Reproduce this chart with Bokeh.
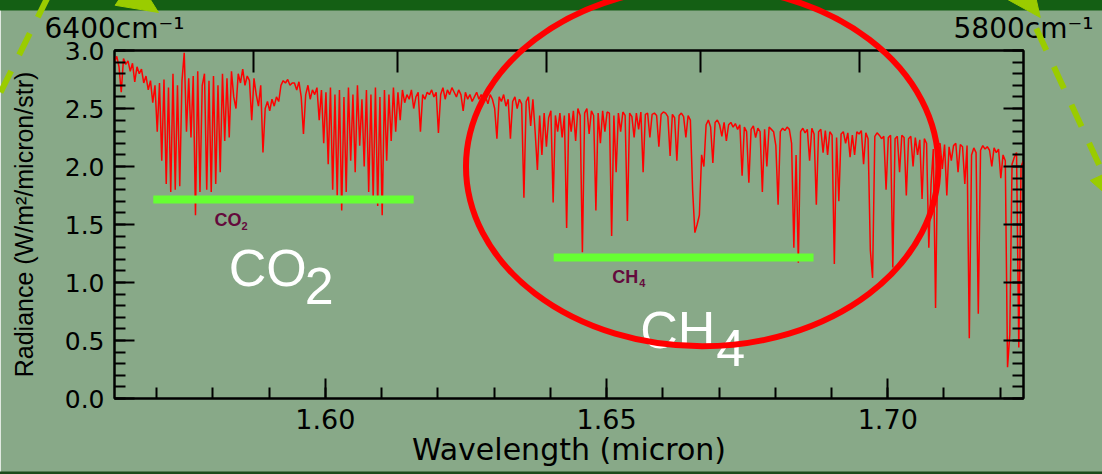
import numpy as np
from bokeh.plotting import figure
from bokeh.models import (Range1d, LinearAxis, SingleIntervalTicker, FixedTicker,
                          NumeralTickFormatter)
from bokeh.core.properties import value
from bokeh.embed import file_html
from bokeh.resources import INLINE

# ---------------- data ----------------
WL_START = 1.5625      # micron (6400 cm-1)
WL_STEP = 0.0004       # sampling step of the spectrum, micron
radiance = [
    2.90, 2.95, 2.86, 2.64, 2.93, 2.88, 2.91, 2.82, 2.89, 2.73, 2.86, 2.80, 2.84, 2.72, 2.78, 2.66, 2.74, 2.55, 2.70, 2.30,
    2.72, 2.05, 2.75, 1.85, 2.68, 1.78, 2.80, 1.80, 2.70, 1.83, 2.74, 2.98, 2.30, 2.76, 2.25, 2.78, 1.58, 2.82, 1.78, 2.70,
    2.80, 1.80, 2.74, 1.78, 2.78, 1.85, 2.70, 1.95, 2.80, 2.22, 2.76, 2.25, 2.82, 2.60, 2.50, 2.80, 2.72, 2.84, 2.70, 2.78,
    2.74, 2.40, 2.76, 2.62, 2.52, 2.70, 2.12, 2.50, 2.56, 2.48, 2.58, 2.52, 2.60, 2.56, 2.70, 2.74, 2.72, 2.75, 2.70, 2.72,
    2.72, 2.66, 2.73, 2.60, 2.28, 2.62, 2.70, 2.58, 2.66, 2.62, 2.68, 2.40, 2.66, 2.20, 2.64, 2.02, 2.68, 1.80, 2.62, 1.75,
    2.66, 1.62, 2.60, 1.78, 2.68, 2.05, 2.62, 1.95, 2.70, 2.18, 2.58, 2.00, 2.66, 1.78, 2.62, 1.72, 2.68, 1.66, 2.60, 1.58,
    2.66, 2.05, 2.62, 2.22, 2.68, 2.30, 2.64, 2.40, 2.66, 2.55, 2.62, 2.58, 2.66, 2.50, 2.60, 2.64, 2.30, 2.62, 2.58, 2.64,
    2.62, 2.66, 2.60, 2.64, 2.29, 2.62, 2.68, 2.58, 2.66, 2.62, 2.68, 2.64, 2.60, 2.66, 2.62, 2.48, 2.64, 2.58, 2.62, 2.56,
    2.60, 2.64, 2.58, 2.62, 2.56, 2.60, 2.54, 2.62, 2.58, 2.50, 2.24, 2.60, 2.56, 2.62, 2.52, 2.58, 2.24, 2.56, 2.60, 2.50,
    2.58, 2.54, 1.73, 2.56, 2.60, 2.35, 2.58, 2.30, 1.97, 2.44, 2.10, 2.46, 2.17, 2.42, 2.48, 1.69, 2.44, 2.30, 2.46, 2.25,
    2.44, 1.47, 2.46, 2.30, 2.48, 2.22, 2.50, 2.44, 1.26, 2.46, 2.50, 2.28, 2.48, 2.44, 1.62, 2.46, 2.20, 2.48, 2.30, 2.47,
    2.46, 1.40, 2.44, 1.95, 2.46, 2.30, 2.47, 2.44, 1.53, 2.46, 2.43, 2.25, 2.46, 2.32, 2.47, 1.95, 2.45, 2.46, 2.25, 2.45,
    2.46, 2.44, 2.17, 2.45, 2.47, 2.46, 2.43, 2.09, 2.45, 2.42, 2.05, 2.44, 2.46, 2.43, 2.25, 2.44, 2.40, 1.80, 1.43, 1.50,
    1.58, 2.10, 2.00, 2.36, 2.40, 2.34, 2.03, 2.38, 2.40, 2.36, 2.26, 2.38, 2.22, 2.36, 2.38, 2.34, 2.37, 2.32, 2.36, 1.92,
    2.34, 2.30, 1.86, 2.32, 2.35, 2.25, 2.33, 2.30, 1.78, 2.32, 2.00, 2.34, 2.32, 2.30, 2.18, 1.67, 2.30, 2.33, 2.31, 2.34,
    2.32, 2.20, 1.30, 2.10, 1.17, 2.30, 2.33, 2.29, 2.32, 2.05, 2.33, 2.28, 1.67, 2.30, 2.32, 2.12, 2.31, 2.10, 2.30, 2.27,
    1.16, 2.25, 1.70, 2.28, 2.30, 2.20, 2.29, 2.08, 2.27, 2.10, 2.30, 2.28, 2.31, 2.02, 2.29, 2.24, 1.28, 1.04, 2.26, 2.29,
    2.27, 2.24, 2.26, 1.80, 2.25, 2.27, 1.13, 2.24, 2.26, 1.95, 2.27, 2.25, 1.75, 2.24, 2.26, 2.00, 2.25, 2.10, 2.23, 1.72,
    2.24, 2.20, 1.30, 1.85, 2.15, 0.78, 2.18, 2.20, 1.98, 2.19, 1.75, 2.17, 2.05, 2.18, 2.20, 1.95, 2.19, 2.17, 1.85, 2.18,
    0.52, 2.10, 2.16, 2.12, 0.73, 2.14, 2.18, 2.15, 2.17, 2.14, 2.00, 2.16, 2.12, 2.15, 1.90, 2.10, 2.05, 0.27, 0.55, 2.02,
    2.08, 2.12, 0.44, 2.00, 2.05,
]
wavelength = [WL_START + i * WL_STEP for i in range(len(radiance))]

# absorption band markers (green bars) and their labels
band_start = [1.5694, 1.6406]
band_end = [1.6157, 1.6868]
band_level = [1.715, 1.216]
small_label = ["CO", "CH"]
small_sub = ["2", "4"]
small_x = [1.5803, 1.6510]
small_y = [1.538, 1.046]
big_label = ["CO", "CH"]
big_sub = ["2", "4"]
big_x = [1.5828, 1.6560]
big_y = [1.121, 0.587]

# top axis (wavenumber, cm-1)
wavenumbers = [6400, 6300, 6200, 6100, 6000, 5900, 5800]

y_major = 0.5
x_major = 0.05
y_label_values = [0.0, 0.5, 1.0, 1.5, 2.0, 2.5, 3.0]

# ---------------- styling ----------------
BG = "#88a988"
TOP_BAND = "#145f14"
BOT_BAND = "#1b4a1b"
ARROW_C = "#9acc00"
SANS = "DejaVu Sans"

x_start = 1e4 / wavenumbers[0]
x_end = 1e4 / wavenumbers[-1]

p = figure(width=1102, height=474, output_backend="svg", toolbar_location=None,
           x_range=Range1d(x_start, x_end), y_range=Range1d(0, 3.0),
           min_border_left=114, min_border_right=79, min_border_top=50, min_border_bottom=76,
           background_fill_color=BG, border_fill_color=BG,
           outline_line_color="black", outline_line_width=2)
p.grid.visible = False

def style_axis(ax):
    ax.axis_line_width = 2
    ax.axis_line_color = "black"
    ax.major_tick_line_width = 2
    ax.minor_tick_line_width = 2
    ax.major_tick_in = 20
    ax.major_tick_out = 0
    ax.minor_tick_in = 11
    ax.minor_tick_out = 0
    ax.major_label_text_color = "black"
    ax.axis_label_text_color = "black"
    ax.axis_label_text_font_style = "normal"

# bottom axis
xa = p.xaxis[0]
style_axis(xa)
xa.ticker = SingleIntervalTicker(interval=x_major, num_minor_ticks=5)
xa.formatter = NumeralTickFormatter(format="0.00")
xa.major_label_text_font = SANS
xa.major_label_text_font_size = "27px"
xa.major_label_standoff = 10
xa.axis_label = "Wavelength (micron)"
xa.axis_label_text_font = SANS
xa.axis_label_text_font_size = "30px"
xa.axis_label_standoff = 0

# left axis
ya = p.yaxis[0]
style_axis(ya)
ya.ticker = SingleIntervalTicker(interval=y_major, num_minor_ticks=5)
ya.formatter = NumeralTickFormatter(format="0.0")
ya.major_label_text_font = SANS
ya.major_label_text_font_size = "25px"
ya.major_label_standoff = 10
ya.axis_label = "Radiance (W/m²/micron/str)"
ya.axis_label_text_font = "Liberation Sans"
ya.axis_label_text_font_size = "25px"
ya.axis_label_standoff = 24

# right axis (ticks only)
ra = LinearAxis(ticker=SingleIntervalTicker(interval=y_major, num_minor_ticks=5))
style_axis(ra)
ra.major_label_overrides = {v: "" for v in y_label_values}
ra.major_label_standoff = 0
p.add_layout(ra, "right")

# top axis: wavenumber
wn_ticks = [1e4 / w for w in wavenumbers]
ta = LinearAxis(ticker=FixedTicker(ticks=[wn_ticks[0], wn_ticks[-1]], minor_ticks=wn_ticks[1:-1]))
style_axis(ta)
ta.minor_tick_in = 22
ta.major_tick_in = 0
ta.major_label_overrides = {wn_ticks[0]: f"{wavenumbers[0]}cm⁻¹", wn_ticks[-1]: f"{wavenumbers[-1]}cm⁻¹"}
ta.major_label_text_font = SANS
ta.major_label_text_font_size = "28px"
ta.major_label_standoff = 6
p.add_layout(ta, "above")

# ---------------- glyphs ----------------
p.line(wavelength, radiance, line_color="#ff0000", line_width=1.5)
p.segment(x0=band_start, y0=band_level, x1=band_end, y1=band_level,
          line_color="#66ff33", line_width=8, line_cap="butt")

# small molecule labels
p.text(x=small_x, y=small_y, text=small_label, text_font=value("Liberation Sans"),
       text_font_size="18px", text_font_style="bold", text_color="#640a3c",
       text_align="left", text_baseline="alphabetic")
p.text(x=small_x, y=small_y, text=small_sub, text_font=value("Liberation Sans"),
       text_font_size="11px", text_font_style="bold", text_color="#640a3c",
       text_align="left", text_baseline="alphabetic", x_offset=27, y_offset=6)

# big white labels
p.text(x=big_x, y=big_y, text=big_label, text_font=value("Liberation Sans"),
       text_font_size="52px", text_color="white",
       text_align="left", text_baseline="alphabetic")
p.text(x=big_x, y=big_y, text=big_sub, text_font=value("Liberation Sans"),
       text_font_size="52px", text_color="white",
       text_align="left", text_baseline="alphabetic", x_offset=76, y_offset=18)

# ---------------- decorations (drawn above the frame clip) ----------------
# dark green strips at the top and bottom of the slide
p.quad(left=[1.50, 1.50], right=[1.80, 1.80], bottom=[3.345, -0.90], top=[3.70, -0.629],
       fill_color=[TOP_BAND, BOT_BAND], line_alpha=0, level="overlay")

# red ellipse around the CH4 region
ELL_CX, ELL_CY, ELL_W, ELL_H = 1.667, 2.0, 0.084, 3.10
p.ellipse(x=[ELL_CX], y=[ELL_CY], width=[ELL_W], height=[ELL_H], fill_alpha=0,
          line_color="#ff0000", line_width=6, level="overlay")

# dashed yellow-green arrows
p.line(x=[1.54223, 1.55077], y=[2.638, 3.474], line_color=ARROW_C, line_width=6,
       line_dash="24 18", level="overlay")
p.line(x=[1.72641, 1.73833], y=[3.1897, 1.9371], line_color=ARROW_C, line_width=6,
       line_dash="24 18", level="overlay")
head_xs = [[1.57032, 1.56262, 1.56618], [1.72712, 1.72030, 1.72542], [1.74126, 1.73601, 1.74117]]
head_ys = [[3.3276, 3.3897, 3.6483], [3.2845, 3.4672, 3.6534], [1.6552, 1.8793, 1.9948]]
for hx, hy in zip(head_xs, head_ys):
    p.patch(x=hx, y=hy, fill_color=ARROW_C, line_color=ARROW_C, line_width=1, level="overlay")

open("out.html", "w").write(file_html(p, INLINE))
